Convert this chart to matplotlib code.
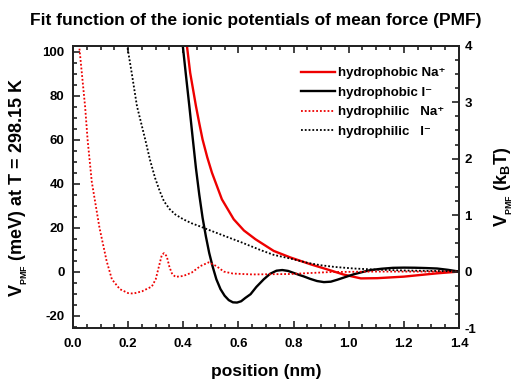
import matplotlib
matplotlib.use('Agg')
import matplotlib.pyplot as plt
from matplotlib.ticker import MultipleLocator, FormatStrFormatter

plt.rcParams['font.family'] = ['Liberation Sans', 'DejaVu Sans']
plt.rcParams['font.weight'] = 'bold'
plt.rcParams['axes.titleweight'] = 'bold'
plt.rcParams['axes.labelweight'] = 'bold'
plt.rcParams['axes.unicode_minus'] = False
plt.rcParams['mathtext.fontset'] = 'custom'
plt.rcParams['mathtext.rm'] = 'Liberation Sans:bold'
plt.rcParams['mathtext.bf'] = 'Liberation Sans:bold'
plt.rcParams['mathtext.default'] = 'bf'

# k_B T at 298.15 K in meV (right axis = left axis / KT)
KT = 25.69

# hydrophobic Na+ (red solid)
x_phob_na = [0.406, 0.413, 0.425, 0.446, 0.458, 0.47, 0.487, 0.504, 0.54, 0.583,
             0.62, 0.662, 0.728, 0.789, 0.862, 0.935, 0.98, 1.044, 1.104, 1.2,
             1.32, 1.4]
y_phob_na = [110, 103, 90.5, 75.3, 67.5, 60.1, 52, 45, 32.9, 23.8,
             18.7, 14.7, 9.4, 6.4, 3.3, 0.5, -1.3, -3.1, -3.0, -2.3,
             -0.8, 0]

# hydrophobic I- (black solid)
x_phob_i = [0.396, 0.398, 0.41, 0.422, 0.434, 0.446, 0.458, 0.47, 0.482, 0.494,
            0.506, 0.52, 0.535, 0.55, 0.565, 0.58, 0.595, 0.61, 0.625, 0.644,
            0.665, 0.692, 0.715, 0.738, 0.759, 0.78, 0.80, 0.82, 0.837, 0.86,
            0.885, 0.91, 0.935, 0.959, 0.99, 1.019, 1.05, 1.08, 1.12, 1.16,
            1.2, 1.24, 1.28, 1.32, 1.36, 1.4]
y_phob_i = [110, 103, 89, 75.3, 61, 47, 35, 24.5, 16, 8.5,
            2.5, -3.5, -8, -11, -13, -14, -14.1, -13.5, -12, -10.3,
            -7, -3.5, -1, 0.4, 0.7, 0.3, -0.6, -1.5, -2.2, -3.3,
            -4.3, -4.8, -4.6, -3.7, -2.4, -1.2, -0.2, 0.7, 1.3, 1.7,
            1.8, 1.75, 1.6, 1.4, 0.8, 0]

# hydrophilic Na+ (red dotted)
x_phil_na = [0.015, 0.023, 0.044, 0.053, 0.068, 0.096, 0.122, 0.141, 0.17, 0.2,
             0.219, 0.25, 0.286, 0.30, 0.312, 0.322, 0.33, 0.34, 0.35, 0.36,
             0.372, 0.40, 0.43, 0.462, 0.492, 0.52, 0.547, 0.58, 0.65, 0.789,
             0.935, 1.1, 1.4]
y_phil_na = [110, 102, 75, 60, 41, 20, 4.8, -3.5, -8, -9.8,
             -10, -9, -6.8, -3.5, 2.5, 7.5, 8.4, 7, 2, -1.2,
             -2.4, -2.0, -0.5, 2.5, 4.2, 2.5, 0, -0.9, -1.3, -1.1,
             -0.2, 0, 0]

# hydrophilic I- (black dotted)
x_phil_i = [0.19, 0.197, 0.213, 0.232, 0.262, 0.28, 0.298, 0.315, 0.33, 0.35,
            0.371, 0.40, 0.43, 0.462, 0.492, 0.55, 0.613, 0.68, 0.728, 0.789,
            0.85, 0.898, 0.95, 1.019, 1.1, 1.2, 1.3, 1.4]
y_phil_i = [112, 102.5, 90.4, 75.3, 60.1, 50.5, 42.5, 36.5, 32, 28.5,
            26, 23.8, 22, 20.5, 19, 16.2, 13.2, 9.8, 7.6, 5.9,
            4, 2.9, 2.1, 1.4, 0.9, 0.5, 0.3, 0.1]

fig = plt.figure(figsize=(5.14, 3.85), dpi=100)
ax = fig.add_axes([0.142, 0.148, 0.751, 0.733])
ax2 = ax.twinx()

red = '#ee0000'
dot = (0, (1, 1.1))
l1, = ax.plot(x_phob_na, y_phob_na, color=red, lw=1.7, label='hydrophobic Na\u207a')
l2, = ax.plot(x_phob_i, y_phob_i, color='black', lw=1.7, label='hydrophobic I\u207b')
l3, = ax.plot(x_phil_na, y_phil_na, color=red, lw=1.3, ls=dot, label='hydrophilic   Na\u207a')
l4, = ax.plot(x_phil_i, y_phil_i, color='black', lw=1.3, ls=dot, label='hydrophilic   I\u207b')

ax.set_xlim(0.0, 1.4)
ax.set_ylim(-KT, 4 * KT)
ax2.set_ylim(-1, 4)

ax.xaxis.set_major_locator(MultipleLocator(0.2))
ax.xaxis.set_minor_locator(MultipleLocator(0.05))
ax.xaxis.set_major_formatter(FormatStrFormatter('%.1f'))
ax.yaxis.set_major_locator(MultipleLocator(20))
ax.yaxis.set_minor_locator(MultipleLocator(5))
ax2.yaxis.set_major_locator(MultipleLocator(1))
ax2.yaxis.set_minor_locator(MultipleLocator(0.25))

ax.tick_params(which='both', direction='in', top=True, right=False, width=1.2,
               labelsize=9.5, color='#222222')
ax.tick_params(axis='x', pad=7)
ax.tick_params(axis='y', pad=6)
ax2.tick_params(which='both', direction='in', width=1.2, labelsize=9.5,
                color='#222222', pad=4)
for a in (ax, ax2):
    a.tick_params(which='major', length=5)
    a.tick_params(which='minor', length=3)
    for s in a.spines.values():
        s.set_linewidth(1.3)
        s.set_color('#222222')

ax.set_xlabel('position (nm)', fontsize=12.5, labelpad=10)
ax.set_ylabel('V$_{{}_{PMF}}$ (meV) at T = 298.15 K', fontsize=13, labelpad=9)
ax2.set_ylabel('V$_{{}_{PMF}}$ (k$_{B}$T)', fontsize=13, labelpad=12)
fig.text(0.497, 0.947, 'Fit function of the ionic potentials of mean force (PMF)',
         fontsize=12.5, fontweight='bold', ha='center', va='center')

ax2.legend(handles=[l1, l2, l3, l4], loc='upper right', bbox_to_anchor=(0.99, 0.958),
           frameon=False, fontsize=9.5, handlelength=2.6, handletextpad=0.25,
           labelspacing=0.55, borderaxespad=0.3)

fig.savefig('out.png', dpi=100)
